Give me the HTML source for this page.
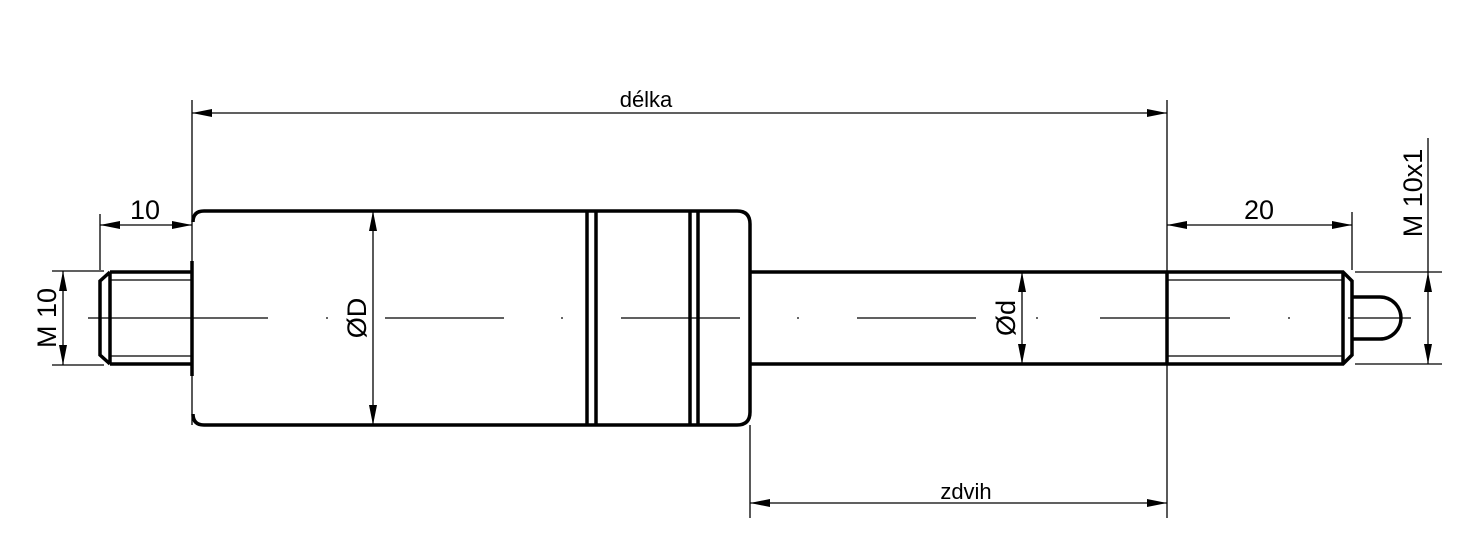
<!DOCTYPE html>
<html><head><meta charset="utf-8"><style>
html,body{margin:0;padding:0;background:#fff;}
svg{display:block;}
text{font-family:"Liberation Sans",sans-serif;fill:#000;}
</style></head><body>
<svg width="1471" height="537" viewBox="0 0 1471 537" xmlns="http://www.w3.org/2000/svg">
<defs>
<marker id="a" viewBox="0 0 20 8" refX="20" refY="4" markerWidth="20" markerHeight="8" markerUnits="userSpaceOnUse" orient="auto-start-reverse"><path d="M0,0 L20,4 L0,8 z" fill="#000"/></marker>
</defs>
<g stroke="#000" fill="none">
<!-- centerline -->
<g stroke-width="1.2">
<line x1="88" y1="318" x2="268" y2="318"/>
<line x1="385" y1="318" x2="504" y2="318"/>
<line x1="621" y1="318" x2="740" y2="318"/>
<line x1="857" y1="318" x2="976" y2="318"/>
<line x1="1100" y1="318" x2="1230" y2="318"/>
<line x1="1348" y1="318" x2="1411" y2="318"/>
<line x1="326" y1="318" x2="328" y2="318"/>
<line x1="561" y1="318" x2="563" y2="318"/>
<line x1="797" y1="318" x2="799" y2="318"/>
<line x1="1036" y1="318" x2="1038" y2="318"/>
<line x1="1288" y1="318" x2="1290" y2="318"/>
</g>
<!-- main outlines -->
<g stroke-width="3.5">
<path d="M110,272 L192,272 M110,364 L192,364 M110,272 L110,364 M110,272 L100,281 L100,355 L110,364"/>
<line x1="192" y1="261" x2="192" y2="376"/>
<path d="M204,211 L737,211 Q750,211 750,224 L750,412 Q750,425 737,425 L204,425 Q193,425 193,414"/>
<path d="M193,222 Q193,211 204,211"/>
<line x1="587" y1="212" x2="587" y2="424"/>
<line x1="596" y1="212" x2="596" y2="424"/>
<line x1="690" y1="212" x2="690" y2="424"/>
<line x1="698" y1="212" x2="698" y2="424"/>
<path d="M750,272 L1343,272 L1352,281 L1352,355 L1343,364 L750,364"/>
<line x1="1167" y1="272" x2="1167" y2="364"/>
<line x1="1343" y1="272" x2="1343" y2="364"/>
<path d="M1353,297 L1380,297 A21,21 0 0 1 1380,339 L1353,339"/>
</g>
<g stroke-width="1.3">
<line x1="110" y1="280" x2="192" y2="280"/>
<line x1="110" y1="356" x2="192" y2="356"/>
<line x1="1167" y1="280" x2="1343" y2="280"/>
<line x1="1167" y1="356" x2="1343" y2="356"/>
<!-- extension lines -->
<line x1="192" y1="100" x2="192" y2="425"/>
<line x1="1167" y1="100" x2="1167" y2="518"/>
<line x1="750" y1="425" x2="750" y2="518"/>
<line x1="100" y1="214" x2="100" y2="270"/>
<line x1="1352" y1="212" x2="1352" y2="270"/>
<line x1="52" y1="271" x2="104" y2="271"/>
<line x1="52" y1="365" x2="104" y2="365"/>
<line x1="1355" y1="272" x2="1442" y2="272"/>
<line x1="1355" y1="364" x2="1442" y2="364"/>
<!-- dimension lines -->
<line x1="192" y1="113" x2="1167" y2="113" marker-start="url(#a)" marker-end="url(#a)"/>
<line x1="750" y1="503" x2="1167" y2="503" marker-start="url(#a)" marker-end="url(#a)"/>
<line x1="100" y1="225" x2="192" y2="225" marker-start="url(#a)" marker-end="url(#a)"/>
<line x1="1167" y1="225" x2="1352" y2="225" marker-start="url(#a)" marker-end="url(#a)"/>
<line x1="63" y1="271" x2="63" y2="365" marker-start="url(#a)" marker-end="url(#a)"/>
<line x1="373" y1="211" x2="373" y2="425" marker-start="url(#a)" marker-end="url(#a)"/>
<line x1="1022" y1="272" x2="1022" y2="364" marker-start="url(#a)" marker-end="url(#a)"/>
<line x1="1428" y1="272" x2="1428" y2="364" marker-start="url(#a)" marker-end="url(#a)"/>
<line x1="1428" y1="138" x2="1428" y2="272"/>
</g>
</g>
<g font-size="24">
<text x="646" y="107" text-anchor="middle" font-size="22">délka</text>
<text x="966" y="499" text-anchor="middle" font-size="22">zdvih</text>
<text x="145" y="219" text-anchor="middle" font-size="27">10</text>
<text x="1259" y="219" text-anchor="middle" font-size="27">20</text>
<text transform="translate(56,318) rotate(-90)" text-anchor="middle" font-size="27">M 10</text>
<text transform="translate(1422,193) rotate(-90)" text-anchor="middle" font-size="27">M 10x1</text>
<text transform="translate(366,318) rotate(-90)" text-anchor="middle" font-size="27">ØD</text>
<text transform="translate(1015,318) rotate(-90)" text-anchor="middle" font-size="27">Ød</text>
</g>
</svg>
</body></html>
